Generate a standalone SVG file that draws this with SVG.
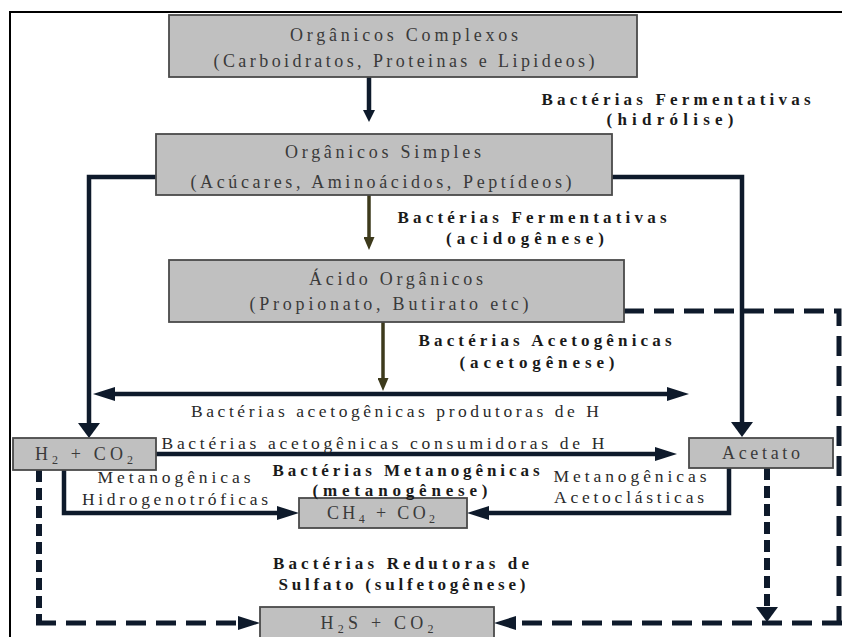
<svg xmlns="http://www.w3.org/2000/svg" width="842" height="637" viewBox="0 0 842 637">
<defs>
<style>
.box{fill:#c0c0c0;stroke:#4a4a4a;stroke-width:1.8}
.bt{font-family:"Liberation Serif",serif;font-size:18px;fill:#3a3a3a;text-anchor:middle}
.lb{font-family:"Liberation Serif",serif;font-size:17px;font-weight:bold;fill:#1a1a1a;text-anchor:middle}
.lt{font-family:"Liberation Serif",serif;font-size:17.5px;fill:#2a2a2a;text-anchor:middle}
.ln{fill:none;stroke:#0e1a2b;stroke-width:4.5}
.ol{fill:none;stroke:#3d3a1c;stroke-width:3.5}
.dh{fill:none;stroke:#0e1a2b;stroke-width:5;stroke-dasharray:20 10}
.dv{fill:none;stroke:#0e1a2b;stroke-width:6;stroke-dasharray:12 6}
.frame{fill:none;stroke:#000;stroke-width:2}
</style>
<marker id="ah" markerUnits="userSpaceOnUse" markerWidth="22" markerHeight="14" refX="0" refY="7" orient="auto-start-reverse" viewBox="0 0 22 14"><path d="M0,0 L22,7 L0,14 z" fill="#0e1a2b"/></marker>
<marker id="av" markerUnits="userSpaceOnUse" markerWidth="15" markerHeight="22" refX="0" refY="11" orient="auto" viewBox="0 0 15 22"><path d="M0,0 L15,11 L0,22 z" fill="#0e1a2b"/></marker>
<marker id="as" markerUnits="userSpaceOnUse" markerWidth="12" markerHeight="12" refX="0" refY="6" orient="auto" viewBox="0 0 12 12"><path d="M0,0 L12,6 L0,12 z" fill="#0e1a2b"/></marker>
<marker id="ao" markerUnits="userSpaceOnUse" markerWidth="13" markerHeight="11" refX="0" refY="5.5" orient="auto" viewBox="0 0 13 11"><path d="M0,0 L13,5.5 L0,11 z" fill="#3d3a1c"/></marker>
</defs>

<path class="frame" d="M10,637 L10,12 L842,12"/>

<g id="connectors">
  <path class="ln" marker-end="url(#as)" d="M369,77 L369,110"/>
  <path class="ol" marker-end="url(#ao)" d="M369,195 L369,237"/>
  <path class="ol" marker-end="url(#ao)" d="M383,322 L383,378"/>
  <path class="ln" marker-end="url(#av)" d="M156,177 L89,177 L89,423"/>
  <path class="ln" marker-end="url(#av)" d="M612,177 L742,177 L742,422"/>
  <path class="ln" marker-start="url(#ah)" marker-end="url(#ah)" d="M115,394 L667,394"/>
  <path class="ln" marker-end="url(#ah)" d="M156,454 L655,454"/>
  <path class="ln" marker-end="url(#ah)" d="M64,470 L64,513 L277,513"/>
  <path class="ln" marker-end="url(#ah)" d="M729,468 L729,513 L489,513"/>
  <path class="dv" d="M39,470 L39,623"/>
  <path class="dh" marker-end="url(#ah)" d="M36,623 L238,623"/>
  <path class="dv" marker-end="url(#av)" d="M767,468 L767,607"/>
  <path class="dh" d="M624,311 L839,311 L839,623"/>
  <path class="dh" marker-end="url(#ah)" d="M842,623 L516,623"/>
</g>

<g id="n-organicos-complexos">
  <rect class="box" x="169" y="15" width="468" height="62"/>
  <text class="bt" x="404" y="41" textLength="228">Orgânicos Complexos</text>
  <text class="bt" x="404" y="67" textLength="381">(Carboidratos, Proteinas e Lipideos)</text>
</g>
<g id="n-organicos-simples">
  <rect class="box" x="156" y="134" width="456" height="61"/>
  <text class="bt" x="383" y="158" textLength="196">Orgânicos Simples</text>
  <text class="bt" x="381" y="188" textLength="381">(Acúcares, Aminoácidos, Peptídeos)</text>
</g>
<g id="n-acido-organicos">
  <rect class="box" x="169" y="260" width="455" height="62"/>
  <text class="bt" x="396" y="285" textLength="174">Ácido Orgânicos</text>
  <text class="bt" x="389" y="310" textLength="279">(Propionato, Butirato etc)</text>
</g>
<g id="n-h2-co2">
  <rect class="box" x="13" y="438" width="143" height="32"/>
  <text class="bt" x="84" y="460" textLength="98">H<tspan font-size="12" dy="4">2</tspan><tspan dy="-4"> + CO</tspan><tspan font-size="12" dy="4">2</tspan></text>
</g>
<g id="n-acetato">
  <rect class="box" x="689" y="438" width="144" height="30"/>
  <text class="bt" x="761" y="459" textLength="78">Acetato</text>
</g>
<g id="n-ch4-co2">
  <rect class="box" x="299" y="498" width="168" height="30"/>
  <text class="bt" x="381" y="519" textLength="108">CH<tspan font-size="12" dy="4">4</tspan><tspan dy="-4"> + CO</tspan><tspan font-size="12" dy="4">2</tspan></text>
</g>
<g id="n-h2s-co2">
  <rect class="box" x="260" y="607" width="234" height="40"/>
  <text class="bt" x="377" y="629" textLength="113">H<tspan font-size="12" dy="4">2</tspan><tspan dy="-4">S + CO</tspan><tspan font-size="12" dy="4">2</tspan></text>
</g>

<g id="labels">
  <text class="lb" x="676" y="105" textLength="269">Bactérias Fermentativas</text>
  <text class="lb" x="670" y="125" textLength="127">(hidrólise)</text>
  <text class="lb" x="532" y="223" textLength="269">Bactérias Fermentativas</text>
  <text class="lb" x="525" y="244" textLength="158">(acidogênese)</text>
  <text class="lb" x="545" y="346" textLength="253">Bactérias Acetogênicas</text>
  <text class="lb" x="537" y="368" textLength="155">(acetogênese)</text>
  <text class="lt" x="395" y="417" textLength="408">Bactérias acetogênicas produtoras de H</text>
  <text class="lt" x="383" y="449" textLength="443">Bactérias acetogênicas consumidoras de H</text>
  <text class="lb" x="406" y="476" textLength="267" font-size="16">Bactérias Metanogênicas</text>
  <text class="lb" x="400" y="496" textLength="175" font-size="16">(metanogênese)</text>
  <text class="lt" x="174" y="483" textLength="153">Metanogênicas</text>
  <text class="lt" x="175" y="505" textLength="186">Hidrogenotróficas</text>
  <text class="lt" x="630" y="482" textLength="153">Metanogênicas</text>
  <text class="lt" x="629" y="503" textLength="150">Acetoclásticas</text>
  <text class="lb" x="401" y="569" textLength="256">Bactérias Redutoras de</text>
  <text class="lb" x="402" y="590" textLength="247">Sulfato (sulfetogênese)</text>
</g>
</svg>
